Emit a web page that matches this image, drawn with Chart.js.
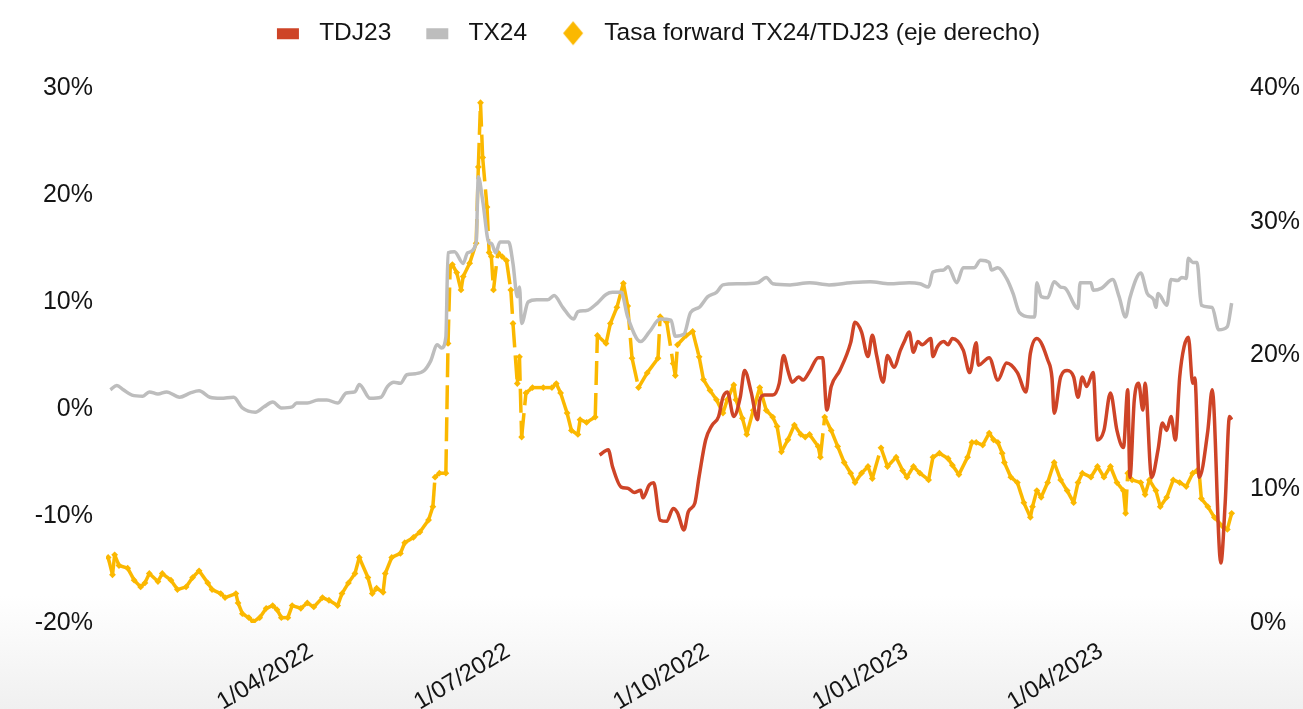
<!DOCTYPE html>
<html><head><meta charset="utf-8">
<script src="https://cdn.jsdelivr.net/npm/chart.js@4.4.1/dist/chart.umd.min.js"></script>
<style>
html,body{margin:0;padding:0;width:1303px;height:709px;overflow:hidden;
background:linear-gradient(to bottom,#ffffff 0%,#ffffff 84%,#f0f0f0 100%);}
#wrap{position:relative;width:1303px;height:709px;}
</style></head><body>
<div id="wrap"><canvas id="c"></canvas></div>
<script>
// ---------- DATA ----------
const seriesNames = ['TDJ23', 'TX24', 'Tasa forward TX24/TDJ23 (eje derecho)'];
const tickDates  = ['2022-04-01','2022-07-01','2022-10-01','2023-01-01','2023-04-01'];
const tickLabels = ['1/04/2022','1/07/2022','1/10/2022','1/01/2023','1/04/2023'];
const xRange = ['2021-12-25','2023-05-31'];

const tx24Dates = ['2021-12-27','2021-12-30','2022-01-02','2022-01-06','2022-01-11','2022-01-14','2022-01-18','2022-01-22','2022-01-28','2022-02-02','2022-02-06','2022-02-11','2022-02-16','2022-02-22','2022-02-26','2022-03-04','2022-03-08','2022-03-12','2022-03-16','2022-03-21','2022-03-23','2022-03-28','2022-04-02','2022-04-06','2022-04-11','2022-04-15','2022-04-19','2022-04-21','2022-04-26','2022-05-01','2022-05-04','2022-05-07','2022-05-10','2022-05-13','2022-05-17','2022-05-21','2022-05-24','2022-05-27','2022-05-29','2022-05-31','2022-06-01','2022-06-04','2022-06-08','2022-06-10','2022-06-14','2022-06-15','2022-06-17','2022-06-20','2022-06-21','2022-06-23','2022-06-25','2022-06-29','2022-07-01','2022-07-03','2022-07-04','2022-07-05','2022-07-08','2022-07-12','2022-07-17','2022-07-20','2022-07-24','2022-07-29','2022-07-31','2022-08-04','2022-08-09','2022-08-13','2022-08-16','2022-08-20','2022-08-23','2022-08-29','2022-09-02','2022-09-07','2022-09-12','2022-09-14','2022-09-18','2022-09-21','2022-09-25','2022-09-29','2022-10-03','2022-10-06','2022-10-13','2022-10-22','2022-10-26','2022-10-29','2022-11-06','2022-11-15','2022-11-24','2022-12-04','2022-12-13','2022-12-22','2022-12-31','2023-01-05','2023-01-09','2023-01-11','2023-01-16','2023-01-18','2023-01-22','2023-01-25','2023-01-30','2023-02-02','2023-02-06','2023-02-07','2023-02-10','2023-02-14','2023-02-17','2023-02-20','2023-02-25','2023-02-27','2023-02-28','2023-03-02','2023-03-05','2023-03-08','2023-03-11','2023-03-13','2023-03-19','2023-03-20','2023-03-25','2023-03-26','2023-03-30','2023-04-04','2023-04-07','2023-04-10','2023-04-12','2023-04-17','2023-04-20','2023-04-23','2023-04-24','2023-04-25','2023-04-29','2023-05-01','2023-05-04','2023-05-06','2023-05-08','2023-05-09','2023-05-11','2023-05-13','2023-05-15','2023-05-20','2023-05-23','2023-05-27','2023-05-29'];
const tx24Values = [1.8,2.2,1.8,1.3,1.2,1.6,1.4,1.6,1.1,1.5,1.7,1.1,1.0,1.1,0.1,-0.3,0.2,0.65,0.1,0.2,0.55,0.55,0.85,0.85,0.55,1.5,1.6,2.3,1.0,1.1,2.1,2.5,2.4,3.2,3.3,3.6,4.5,6.0,5.7,6.7,14.6,14.7,13.6,14.6,15.5,21.7,19.5,15.5,15.5,14.6,15.6,15.6,13.6,10.5,11.4,8.0,10.0,10.2,10.2,10.6,9.5,8.4,9.1,9.2,9.9,10.7,10.9,10.9,8.6,6.3,7.2,8.4,8.3,6.8,7.0,9.0,9.5,10.5,10.9,11.6,11.7,11.8,12.3,11.7,11.6,11.8,11.6,11.8,11.9,11.7,11.8,11.7,11.4,12.8,13.0,13.3,11.8,13.2,13.2,13.9,13.7,13.0,13.2,12.2,10.8,9.0,8.6,8.6,11.8,10.5,10.4,11.9,11.4,11.3,9.4,11.8,11.8,11.1,11.3,12.1,10.5,8.6,10.4,12.7,10.8,10.2,9.5,10.8,9.7,12.1,12.0,12.3,12.2,14.1,13.7,13.7,9.7,9.5,7.4,7.7,9.9];

const tdj23Dates = ['2022-08-10','2022-08-14','2022-08-16','2022-08-20','2022-08-23','2022-08-26','2022-08-29','2022-08-30','2022-09-02','2022-09-04','2022-09-07','2022-09-10','2022-09-13','2022-09-15','2022-09-18','2022-09-20','2022-09-23','2022-09-25','2022-09-28','2022-10-01','2022-10-04','2022-10-06','2022-10-08','2022-10-11','2022-10-14','2022-10-16','2022-10-19','2022-10-22','2022-10-23','2022-10-25','2022-10-29','2022-11-01','2022-11-03','2022-11-05','2022-11-07','2022-11-10','2022-11-12','2022-11-15','2022-11-19','2022-11-21','2022-11-23','2022-11-25','2022-11-29','2022-12-04','2022-12-06','2022-12-09','2022-12-12','2022-12-14','2022-12-16','2022-12-19','2022-12-21','2022-12-24','2022-12-27','2022-12-29','2022-12-31','2023-01-02','2023-01-04','2023-01-06','2023-01-10','2023-01-11','2023-01-13','2023-01-16','2023-01-18','2023-01-20','2023-01-25','2023-01-28','2023-01-31','2023-02-01','2023-02-06','2023-02-10','2023-02-14','2023-02-19','2023-02-23','2023-02-25','2023-02-28','2023-03-05','2023-03-07','2023-03-08','2023-03-11','2023-03-14','2023-03-17','2023-03-19','2023-03-21','2023-03-23','2023-03-26','2023-03-28','2023-03-31','2023-04-03','2023-04-06','2023-04-09','2023-04-11','2023-04-12','2023-04-14','2023-04-16','2023-04-18','2023-04-19','2023-04-22','2023-04-25','2023-04-27','2023-04-29','2023-05-01','2023-05-03','2023-05-05','2023-05-07','2023-05-09','2023-05-11','2023-05-12','2023-05-14','2023-05-18','2023-05-20','2023-05-24','2023-05-26','2023-05-28','2023-05-29'];
const tdj23Values = [-4.3,-3.8,-5.4,-7.3,-7.4,-7.8,-7.6,-8.3,-7.1,-6.9,-10.4,-10.5,-9.3,-9.7,-11.3,-9.6,-8.8,-6.3,-2.9,-1.5,-0.7,1.1,1.6,-0.7,1.1,3.6,1.6,-1.0,0.8,1.3,1.3,2.4,5.0,3.6,2.5,3.0,2.7,3.5,4.8,4.8,-0.1,2.1,3.6,6.2,8.1,7.2,4.9,6.9,5.0,2.5,5.0,3.9,5.5,6.4,7.2,5.3,6.3,6.0,6.6,4.9,5.8,6.3,6.0,6.6,5.5,3.4,6.2,4.1,4.8,2.7,4.3,3.4,1.6,5.2,6.6,4.6,2.9,-0.4,3.0,3.6,3.0,1.1,3.0,2.1,3.4,-2.9,-2.0,1.5,-2.0,-3.6,1.8,-6.4,0.8,2.4,-0.1,2.4,-6.4,-3.8,-1.3,-2.0,-0.7,-2.9,3.0,5.8,6.7,2.4,2.9,-6.4,-2.0,1.8,-14.4,-8.8,-0.7,-1.0];

const fwdDates = ['2021-12-26','2021-12-28','2021-12-29','2021-12-31','2022-01-04','2022-01-07','2022-01-10','2022-01-12','2022-01-14','2022-01-18','2022-01-20','2022-01-24','2022-01-27','2022-01-31','2022-02-03','2022-02-06','2022-02-10','2022-02-12','2022-02-16','2022-02-18','2022-02-23','2022-02-24','2022-02-26','2022-03-01','2022-03-03','2022-03-06','2022-03-09','2022-03-12','2022-03-14','2022-03-16','2022-03-19','2022-03-21','2022-03-25','2022-03-28','2022-03-31','2022-04-04','2022-04-07','2022-04-11','2022-04-13','2022-04-16','2022-04-19','2022-04-21','2022-04-25','2022-04-27','2022-04-29','2022-05-02','2022-05-03','2022-05-06','2022-05-10','2022-05-12','2022-05-16','2022-05-19','2022-05-23','2022-05-25','2022-05-26','2022-05-28','2022-05-31','2022-06-01','2022-06-02','2022-06-03','2022-06-05','2022-06-07','2022-06-08','2022-06-11','2022-06-14','2022-06-15','2022-06-16','2022-06-17','2022-06-19','2022-06-20','2022-06-21','2022-06-22','2022-06-24','2022-06-26','2022-06-28','2022-06-30','2022-07-01','2022-07-03','2022-07-04','2022-07-05','2022-07-07','2022-07-10','2022-07-15','2022-07-19','2022-07-21','2022-07-23','2022-07-26','2022-07-28','2022-07-31','2022-08-01','2022-08-04','2022-08-08','2022-08-09','2022-08-13','2022-08-15','2022-08-18','2022-08-21','2022-08-23','2022-08-25','2022-08-28','2022-09-01','2022-09-06','2022-09-07','2022-09-10','2022-09-13','2022-09-14','2022-09-15','2022-09-19','2022-09-22','2022-09-25','2022-09-27','2022-09-30','2022-10-03','2022-10-06','2022-10-08','2022-10-11','2022-10-12','2022-10-15','2022-10-17','2022-10-20','2022-10-23','2022-10-26','2022-10-29','2022-10-31','2022-11-02','2022-11-05','2022-11-08','2022-11-11','2022-11-13','2022-11-15','2022-11-19','2022-11-20','2022-11-22','2022-11-25','2022-11-28','2022-12-01','2022-12-04','2022-12-06','2022-12-09','2022-12-12','2022-12-14','2022-12-18','2022-12-21','2022-12-25','2022-12-28','2022-12-30','2023-01-02','2023-01-05','2023-01-09','2023-01-11','2023-01-14','2023-01-18','2023-01-20','2023-01-23','2023-01-27','2023-01-29','2023-01-31','2023-02-03','2023-02-06','2023-02-08','2023-02-10','2023-02-12','2023-02-13','2023-02-16','2023-02-19','2023-02-22','2023-02-25','2023-02-26','2023-02-28','2023-03-02','2023-03-05','2023-03-08','2023-03-11','2023-03-14','2023-03-17','2023-03-19','2023-03-21','2023-03-25','2023-03-28','2023-03-31','2023-04-03','2023-04-06','2023-04-09','2023-04-10','2023-04-11','2023-04-13','2023-04-17','2023-04-19','2023-04-21','2023-04-24','2023-04-26','2023-04-29','2023-05-02','2023-05-05','2023-05-08','2023-05-11','2023-05-13','2023-05-14','2023-05-15','2023-05-18','2023-05-21','2023-05-25','2023-05-27','2023-05-29'];
const fwdValues = [4.9,3.6,5.1,4.3,4.1,3.2,2.7,3.0,3.7,3.1,3.7,3.2,2.5,2.7,3.4,3.9,3.0,2.5,2.2,1.9,2.2,1.5,0.7,0.4,0.1,0.4,1.1,1.3,1.0,0.4,0.4,1.3,1.1,1.5,1.2,1.9,1.7,1.3,2.2,3.0,3.7,4.9,3.4,2.2,2.6,2.3,3.7,4.9,5.2,6.0,6.4,6.8,7.7,8.7,10.9,11.2,11.2,20.9,26.6,26.8,26.2,24.9,25.9,26.9,28.4,34.1,38.9,34.8,31.1,27.7,27.4,24.9,27.7,27.4,27.1,24.9,22.4,17.9,19.9,13.9,17.2,17.6,17.6,17.6,17.9,17.2,15.7,14.4,14.1,15.2,15.0,15.4,21.5,20.9,22.4,23.6,25.4,23.7,19.8,17.6,18.7,19.8,22.9,22.5,19.4,18.5,20.8,21.5,21.8,19.9,18.2,17.4,16.7,15.7,16.7,17.8,16.7,15.3,14.1,15.9,17.6,15.9,15.4,14.7,12.8,13.7,14.8,14.1,13.9,14.1,13.2,12.4,15.4,14.4,13.2,12.0,11.2,10.5,11.2,11.7,10.8,13.1,11.7,12.4,11.4,10.9,11.7,11.2,10.7,12.4,12.7,12.3,11.8,11.1,12.4,13.5,13.5,13.3,14.2,13.7,13.5,12.7,12.0,10.9,10.5,9.0,7.9,8.7,9.9,9.4,10.5,12.0,10.7,9.9,9.0,10.5,11.2,10.9,11.7,10.9,11.7,10.5,9.9,8.2,11.2,10.7,10.5,9.6,10.7,9.9,8.7,9.4,10.7,10.5,10.2,11.2,11.4,11.2,9.3,8.7,7.9,7.2,7.0,8.2];

// ---------- helpers ----------
const toX = s => { const p = s.split('-').map(Number); return Date.UTC(p[0], p[1]-1, p[2]); };
const pts = (dates, vals) => dates.map((d, i) => ({ x: toX(d), y: vals[i] }));

const RED = '#CE4427', GRAY = '#BDBDBD', YEL = '#FBB800', TXT = '#141414';
const FONT = "'Liberation Sans', Arial, sans-serif";

function makeMarker(kind, color) {
  const c = document.createElement('canvas');
  c.width = 44; c.height = 26;
  const g = c.getContext('2d');
  g.fillStyle = color;
  if (kind === 'rect') { g.fillRect(14, 8, 22, 11); }
  else { g.beginPath(); g.moveTo(15, 13); g.lineTo(25, 1); g.lineTo(35, 13); g.lineTo(25, 25); g.closePath(); g.fill(); }
  return c;
}
const markers = [makeMarker('rect', RED), makeMarker('rect', GRAY), makeMarker('diamond', YEL)];

const legendHeight = {
  id: 'legendHeight',
  beforeUpdate(chart) {
    const lg = chart.legend;
    if (lg && !lg._patched) {
      const f = lg.fit;
      lg.fit = function () { f.call(this); this.height = 88; };
      lg._patched = true;
    }
  }
};

new Chart(document.getElementById('c'), {
  type: 'line',
  data: {
    datasets: [
      { label: seriesNames[0], data: pts(tdj23Dates, tdj23Values), yAxisID: 'y',
        borderColor: RED, backgroundColor: RED, borderWidth: 3.5, pointRadius: 0,
        cubicInterpolationMode: 'monotone' },
      { label: seriesNames[1], data: pts(tx24Dates, tx24Values), yAxisID: 'y',
        borderColor: GRAY, backgroundColor: GRAY, borderWidth: 3.5, pointRadius: 0,
        cubicInterpolationMode: 'monotone' },
      { label: seriesNames[2], data: pts(fwdDates, fwdValues), yAxisID: 'y2',
        borderColor: YEL, backgroundColor: YEL, borderWidth: 3.5,
        borderDash: [24, 8],
        segment: { borderDashOffset: ctx => (ctx.p0DataIndex % 2 ? 0.001 : 0) },
        pointStyle: 'rectRot', pointRadius: 3.4, pointBorderWidth: 0,
        pointBackgroundColor: YEL, tension: 0 }
    ]
  },
  options: {
    responsive: true, maintainAspectRatio: false, animation: false,
    layout: { padding: 0 },
    plugins: {
      tooltip: { enabled: false },
      legend: {
        position: 'top', align: 'center',
        labels: {
          usePointStyle: true, pointStyleWidth: 44, boxHeight: 24.5, padding: 21,
          color: TXT, font: { family: FONT, size: 24.5 },
          generateLabels: chart => {
            const items = Chart.defaults.plugins.legend.labels.generateLabels(chart);
            items.forEach(it => { it.pointStyle = markers[it.datasetIndex]; });
            items.sort((a, b) => a.datasetIndex - b.datasetIndex);
            return items;
          }
        }
      }
    },
    scales: {
      x: {
        type: 'linear', min: toX(xRange[0]), max: toX(xRange[1]),
        grid: { display: false, drawTicks: false }, border: { display: false },
        afterBuildTicks: s => { s.ticks = tickDates.map(d => ({ value: toX(d) })); },
        afterFit: s => { s.height = 86; },
        ticks: {
          autoSkip: false, minRotation: 31, maxRotation: 31, padding: 14, labelOffset: -5,
          color: TXT, font: { family: FONT, size: 24 },
          callback: v => { const i = tickDates.findIndex(d => toX(d) === v); return i >= 0 ? tickLabels[i] : ''; }
        }
      },
      y: {
        position: 'left', min: -20, max: 30,
        grid: { display: false, drawTicks: false }, border: { display: false },
        afterFit: s => { s.width = 106; },
        ticks: { stepSize: 10, padding: 13, color: TXT, font: { family: FONT, size: 25 }, callback: v => v + '%' }
      },
      y2: {
        position: 'right', min: 0, max: 40,
        grid: { display: false, drawTicks: false }, border: { display: false },
        afterFit: s => { s.width = 67; },
        ticks: { stepSize: 10, padding: 14, color: TXT, font: { family: FONT, size: 25 }, callback: v => v + '%' }
      }
    }
  },
  plugins: [legendHeight]
});
</script>
</body></html>
